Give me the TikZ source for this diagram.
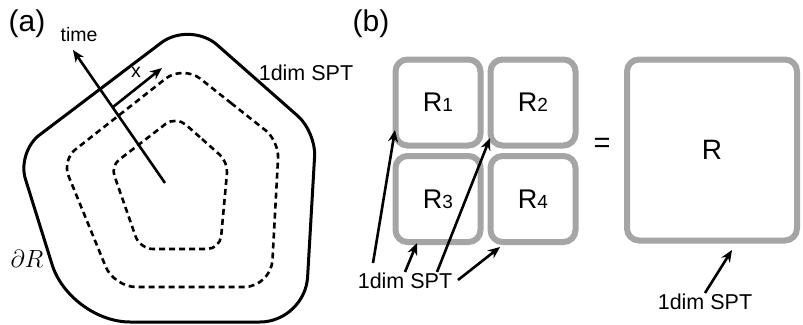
\documentclass[tikz,border=0pt]{standalone}
\usepackage{fontspec}
\setmainfont{Liberation Sans}
\usetikzlibrary{calc,arrows.meta}
\definecolor{boxgray}{RGB}{165,165,165}
\newcommand{\rcn}[4]{-- ($(#1)!#4!(#2)$) .. controls ($(#1)!0.45*#4!(#2)$) and ($(#1)!0.45*#4!(#3)$) .. ($(#1)!#4!(#3)$)}
\newcommand{\rsub}[1]{{\fontsize{19}{19}\selectfont #1}}
\begin{document}
\begin{tikzpicture}[x=1pt,y=-1pt,
  outerline/.style={line width=3pt, line join=round},
  dashline/.style={line width=2.6pt, dash pattern=on 6pt off 4pt},
  arr/.style={-{Stealth[length=12pt,width=10pt]}, line width=2.6pt},
  smalltxt/.style={inner sep=0pt, font=\fontsize{19.5}{19.5}\selectfont},
  spttxt/.style={inner sep=0pt, font=\fontsize{21.5}{21.5}\selectfont},
  paneltxt/.style={inner sep=0pt, font=\fontsize{30}{30}\selectfont},
  rbox/.style={draw=boxgray, line width=6pt, rounded corners=12pt, inner sep=0pt,
     font=\fontsize{27}{27}\selectfont}]
\useasboundingbox (0,0) rectangle (803,324);

% ---------- panel (a) ----------
\coordinate (oA) at (190,21);
\coordinate (oB) at (316,132);
\coordinate (oC) at (305,322);
\coordinate (oD) at (70,322);
\coordinate (oE) at (17,152);
\draw[outerline] ($(oA)!0.5!(oB)$) \rcn{oB}{oA}{oC}{24pt} \rcn{oC}{oB}{oD}{45pt}
   \rcn{oD}{oC}{oE}{60pt} \rcn{oE}{oD}{oA}{28pt} \rcn{oA}{oE}{oB}{36pt} -- cycle;

\coordinate (mA) at (183,65);
\coordinate (mB) at (279,141);
\coordinate (mC) at (271,287);
\coordinate (mD) at (114,287);
\coordinate (mE) at (62,160);
\draw[dashline] ($(mA)!0.5!(mB)$) \rcn{mB}{mA}{mC}{17pt} \rcn{mC}{mB}{mD}{27pt}
   \rcn{mD}{mC}{mE}{22pt} \rcn{mE}{mD}{mA}{17pt} \rcn{mA}{mE}{mB}{22pt} -- cycle;

\coordinate (iA) at (176,116);
\coordinate (iB) at (228,162);
\coordinate (iC) at (220,249);
\coordinate (iD) at (140,249);
\coordinate (iE) at (111,166);
\draw[dashline] ($(iA)!0.5!(iB)$) \rcn{iB}{iA}{iC}{11pt} \rcn{iC}{iB}{iD}{13pt}
   \rcn{iD}{iC}{iE}{13pt} \rcn{iE}{iD}{iA}{10pt} \rcn{iA}{iE}{iB}{13pt} -- cycle;

\coordinate (c0) at (165,183);
\coordinate (tEnd) at (73,50);
\draw[arr] (c0) -- (tEnd);
\coordinate (x0) at (113,107);
\coordinate (x1) at (162,68);
\draw[arr] (x0) -- (x1);

\node[paneltxt] (pa) at (27,24) {(a)};
\node[smalltxt] (time) at (79,35) {time};
\node[smalltxt] (xl) at (136,72) {x};
\node[spttxt] (spta) at (306,73) {1dim SPT};
\node[inner sep=0pt, font=\fontsize{25}{25}\selectfont] (dR) at (27,259) {$\partial R$};

% ---------- panel (b) ----------
\node[paneltxt] (pb) at (371,24) {(b)};
\node[rbox, minimum width=85pt, minimum height=86pt] (R1) at (438,102.5) {R\rsub{1}};
\node[rbox, minimum width=85pt, minimum height=86pt] (R2) at (533,102.5) {R\rsub{2}};
\node[rbox, minimum width=85pt, minimum height=86pt] (R3) at (438,199) {R\rsub{3}};
\node[rbox, minimum width=85pt, minimum height=86pt] (R4) at (533,199) {R\rsub{4}};
\node[inner sep=0pt, font=\fontsize{29}{29}\selectfont] (eq) at (602,145) {=};
\node[rbox, minimum width=170pt, minimum height=181pt, font=\fontsize{28}{28}\selectfont] (RR) at (712,150) {R};

\node[spttxt] (sptb) at (405,281) {1dim SPT};
\node[spttxt] (sptc) at (705,302) {1dim SPT};

\coordinate (s1) at (373,263); \coordinate (e1) at (395,130);
\coordinate (s2) at (405,272); \coordinate (e2) at (417,243);
\coordinate (s3) at (437,272); \coordinate (e3) at (490,138);
\coordinate (s4) at (458,280); \coordinate (e4) at (500,247);
\coordinate (s5) at (705,293); \coordinate (e5) at (732,250);
\draw[arr] (s1) -- (e1);
\draw[arr] (s2) -- (e2);
\draw[arr] (s3) -- (e3);
\draw[arr] (s4) -- (e4);
\draw[arr] (s5) -- (e5);
\end{tikzpicture}
\end{document}
